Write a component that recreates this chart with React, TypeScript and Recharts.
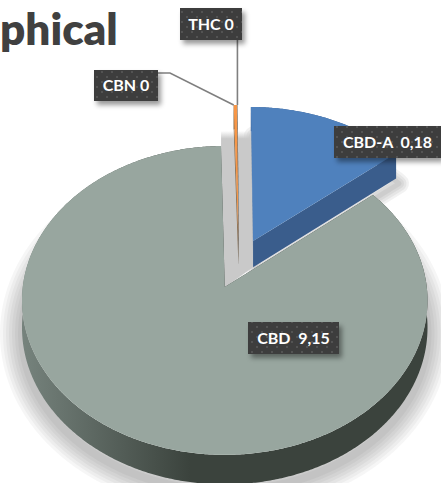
import React from "react";
import { PieChart, Pie } from "recharts";

// Data
const categories = ["CBD-A", "CBD", "CBN", "THC"];
const printedValues = ["0,18", "9,15", "0", "0"];
const sliceShares = [14.08, 85.6, 0.3, 0.02]; // share of the circle each slice covers in the picture
const titleFragment = "phical";

// Colours
const faceColors = ["#4f81bd", "#98a69f", "#f79646", "#7f7f7f"];
const wallColors = ["#3a5d8c", "url(#greyWall)", "#8a6f52", "#555555"];

// Layout
const W = 441;
const H = 483;
const CX = 225;
const CY = 287;
const R = 202;
const TILT_A = 128.2;
const TILT_C = -0.0874;
const DEPTH = 27;
const TRUE_U = 0.07;
const TRUE_V = -0.155;
const EXPLODE = 0.17;
const FONT = "Lato, 'Open Sans', sans-serif";
const labelBoxes = [
  { x: 334, y: 126, w: 107, h: 32, gap: "  " },
  { x: 248, y: 322, w: 91, h: 32, gap: "  " },
  { x: 94, y: 70, w: 64, h: 31, gap: " " },
  { x: 180, y: 8, w: 62, h: 32, gap: " " },
];
const bigShadowRings = [44, 38, 32, 26, 20, 14, 8];
const smallShadowRings = [20, 15, 10, 5];

type P = { x: number; y: number };

const project = (u: number, v: number, drop = 0): P => {
  const d = 1 + TILT_C * v;
  return {
    x: CX + (R * u) / d,
    y: (CY + TILT_A * v) / d + (drop * 1) / d,
  };
};

const dir = (deg: number) => {
  const a = (deg * Math.PI) / 180;
  return { u: Math.sin(a), v: -Math.cos(a) };
};

// Slice frame: recharts gives math angles (90 = top, going clockwise to -270)
const sliceFrame = (startAngle: number, endAngle: number) => {
  const a0 = 90 - startAngle;
  const a1 = 90 - endAngle;
  const mid = dir((a0 + a1) / 2);
  const u0 = TRUE_U + EXPLODE * mid.u;
  const v0 = TRUE_V + EXPLODE * mid.v;
  const arc = (drop: number) => {
    const pts: P[] = [];
    const n = Math.max(2, Math.ceil((a1 - a0) * 2));
    for (let i = 0; i <= n; i++) {
      const d = dir(a0 + ((a1 - a0) * i) / n);
      pts.push(project(u0 + d.u, v0 + d.v, drop));
    }
    return pts;
  };
  return { a0, a1, apex: (drop: number) => project(u0, v0, drop), arc };
};

const toPath = (pts: P[]) =>
  pts.map((p, i) => `${i ? "L" : "M"}${p.x.toFixed(2)},${p.y.toFixed(2)}`).join("") + "Z";

const total = sliceShares.reduce((s, v) => s + v, 0);

const ShadowRings = ({ d, rings, shift, alpha }: { d: string; rings: number[]; shift: string; alpha: number }) => (
  <g transform={shift}>
    {rings.map((w) => (
      <path key={w} d={d} fill="none" stroke="#000" strokeOpacity={alpha} strokeWidth={w} strokeLinejoin="round" />
    ))}
  </g>
);

const SliceShape = (props: any) => {
  const { startAngle, endAngle, index } = props;
  const f = sliceFrame(startAngle, endAngle);
  const topArc = f.arc(0);
  const lowArc = f.arc(DEPTH);
  const a = f.apex(0);
  const aLow = f.apex(DEPTH);
  const face = faceColors[index];
  const wall = wallColors[index];
  const first = topArc[0];
  const last = topArc[topArc.length - 1];
  const lastLow = lowArc[lowArc.length - 1];
  const firstLow = lowArc[0];

  let under = null;
  if (index === 0) {
    // stepped soft shadows, laid down before any slice is painted
    const g = sliceFrame(endAngle, endAngle - (sliceShares[1] / total) * 360);
    under = (
      <g>
        <ShadowRings d={toPath([g.apex(DEPTH), ...g.arc(DEPTH)])} rings={bigShadowRings} shift="translate(0 6)" alpha={0.035} />
        <ShadowRings d={toPath([aLow, ...lowArc])} rings={smallShadowRings} shift="translate(3 5)" alpha={0.05} />
      </g>
    );
  }
  let shade = null;
  if (index === 1) {
    const blue = sliceFrame(90, startAngle);
    const blueLow = blue.apex(DEPTH);
    const blueTop = blue.arc(0)[0];
    shade = (
      <path
        d={toPath([
          { x: last.x, y: last.y - 15 },
          { x: blueTop.x, y: last.y - 15 },
          blueLow,
          a,
          last,
        ])}
        fill="url(#gapShade)"
      />
    );
  }

  return (
    <g>
      {under}
      {shade}
      <path d={toPath([...topArc, ...lowArc.slice().reverse()])} fill={wall} />
      <path d={toPath([a, last, lastLow, aLow])} fill={wall} />
      <path d={toPath([a, first, firstLow, aLow])} fill={wall} />
      <path d={toPath([a, ...topArc])} fill={face} />
    </g>
  );
};

const SliceLabel = (props: any) => {
  const { index, startAngle, endAngle } = props;
  const box = labelBoxes[index];
  const text = `${categories[index]}${box.gap}${printedValues[index]}`;
  const f = sliceFrame(startAngle, endAngle);
  const tip = f.arc(0)[0];
  let leader = null;
  if (index === 2) {
    leader = `M${box.x + box.w},${box.y + 3}L${box.x + box.w + 12},${box.y + 3}L${tip.x},${tip.y}`;
  } else if (index === 3) {
    leader = `M${tip.x},${box.y + box.h}L${tip.x},${tip.y}`;
  }
  return (
    <g>
      {leader && <path d={leader} fill="none" stroke="#7f7f7f" strokeWidth={1.6} />}
      <rect x={box.x} y={box.y} width={box.w} height={box.h} fill="url(#dots)" filter="url(#boxShadow)" />
      <text
        x={box.x + box.w / 2}
        y={box.y + box.h / 2 + 5.5}
        textAnchor="middle"
        fontFamily={FONT}
        fontWeight={700}
        fontSize={16}
        fill="#ffffff"
        xmlSpace="preserve"
      >
        {text}
      </text>
    </g>
  );
};

const data = categories.map((name, i) => ({ name, value: sliceShares[i] }));

export default function App() {
  return (
    <div style={{ position: "absolute", left: 0, top: 0, width: W, height: H, overflow: "hidden", background: "#fff" }}>
      <PieChart width={W} height={H} margin={{ top: 0, right: 0, bottom: 0, left: 0 }}>
        <defs>
          <linearGradient id="greyWall" gradientUnits="userSpaceOnUse" x1={22} y1={0} x2={190} y2={0}>
            <stop offset="0" stopColor="#76837d" />
            <stop offset="1" stopColor="#3b433d" />
          </linearGradient>
          <linearGradient id="gapShade" x1="0" y1="0" x2="0" y2="1">
            <stop offset="0" stopColor="#c9c9c9" stopOpacity={0} />
            <stop offset="0.05" stopColor="#c9c9c9" stopOpacity={1} />
            <stop offset="1" stopColor="#c9c9c9" />
          </linearGradient>
          <filter id="boxShadow" x="-30%" y="-40%" width="160%" height="200%">
            <feDropShadow dx={3} dy={4} stdDeviation={2.5} floodColor="#000" floodOpacity={0.4} />
          </filter>
          <pattern id="dots" patternUnits="userSpaceOnUse" width={10} height={10}>
            <rect width={10} height={10} fill="#3d3d3d" />
            <circle cx={2} cy={2} r={1} fill="#5a5a5a" />
            <circle cx={7} cy={7} r={1} fill="#5a5a5a" />
          </pattern>
        </defs>
        <text x={0} y={45} fontFamily={FONT} fontWeight={800} fontSize={44} fill="#404040">
          {titleFragment}
        </text>
        <Pie
          data={data}
          dataKey="value"
          nameKey="name"
          cx={CX}
          cy={CY}
          outerRadius={R}
          startAngle={90}
          endAngle={-270}
          stroke="none"
          shape={SliceShape}
          label={SliceLabel}
          labelLine={false}
          isAnimationActive={false}
        />
      </PieChart>
    </div>
  );
}
